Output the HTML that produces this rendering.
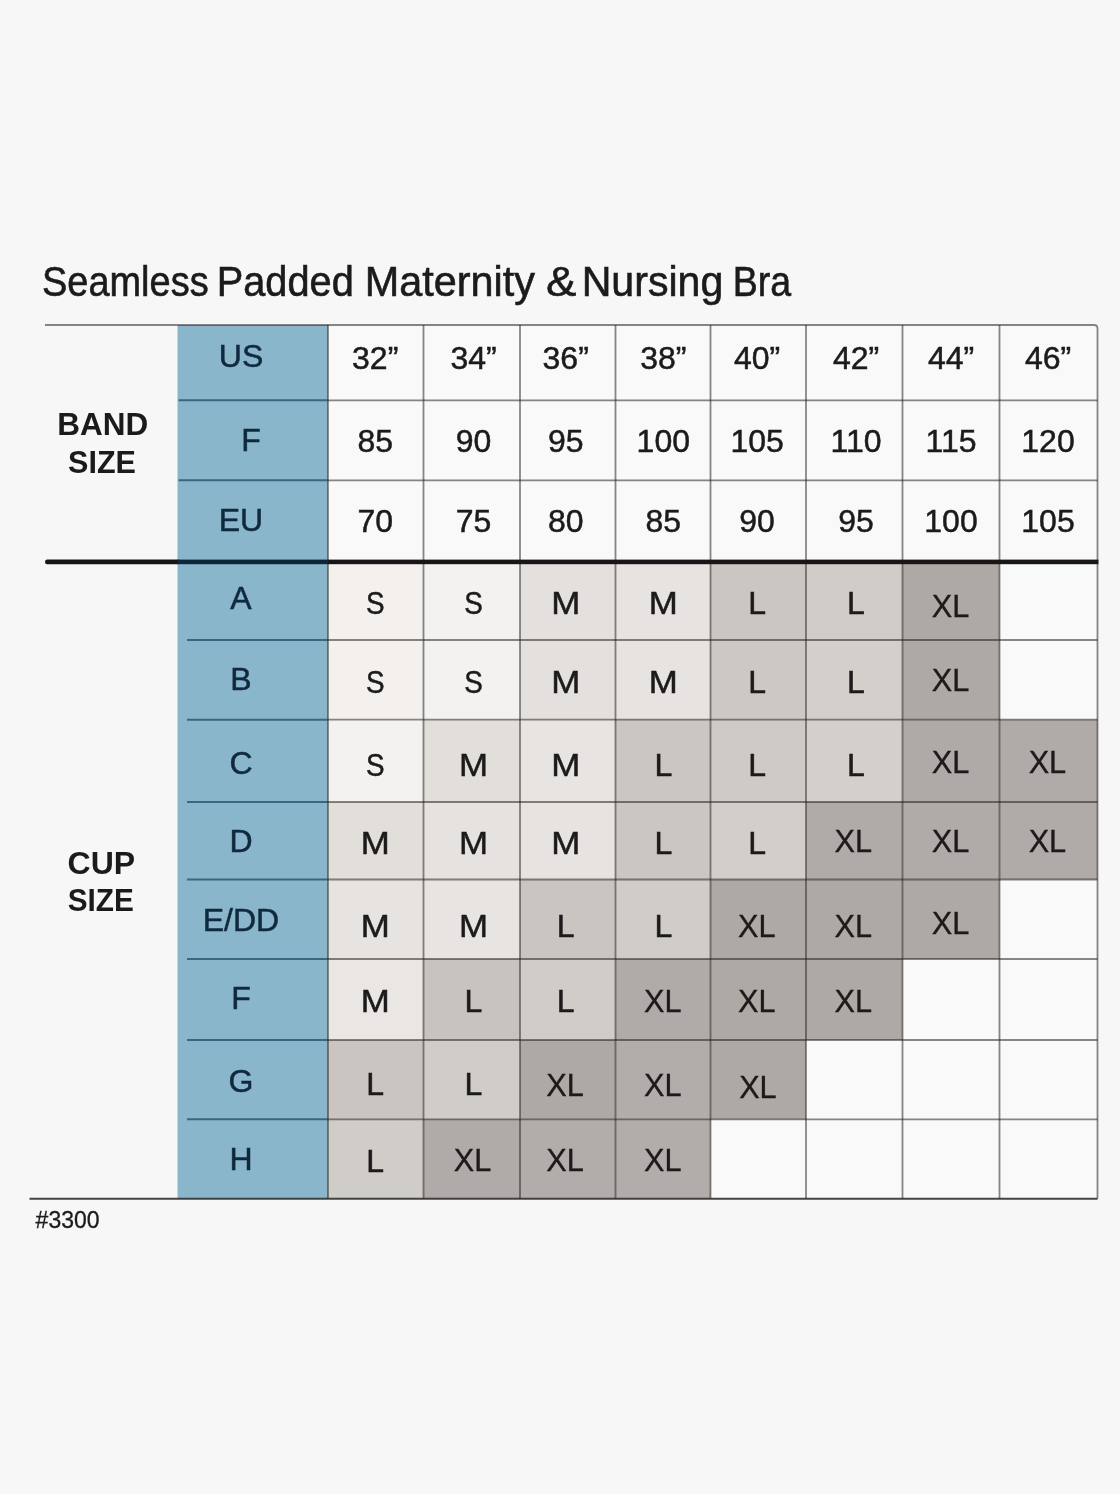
<!DOCTYPE html>
<html lang="en"><head><meta charset="utf-8"><title>Seamless Padded Maternity &amp; Nursing Bra – Size Chart</title>
<style>
html,body{margin:0;padding:0;background:#f7f7f7;}
body{width:1120px;height:1494px;overflow:hidden;}
svg{display:block;}
text{font-family:"Liberation Sans",sans-serif;}
.t{font-size:32px;fill:#1c1a1a;stroke:#1c1a1a;stroke-width:0.5;text-anchor:middle;}
.n{font-size:32px;fill:#10293d;stroke:#10293d;stroke-width:0.5;text-anchor:middle;}
.x{font-size:30.7px;stroke-width:0.35;}
.b{font-size:32px;font-weight:bold;fill:#1c1a1a;text-anchor:middle;}
.ln{stroke:rgba(34,28,24,0.53);stroke-width:1.8;fill:none;}
.soft{filter:blur(0.55px);}
</style></head><body>
<svg width="1120" height="1494" viewBox="0 0 1120 1494">
<rect x="0" y="0" width="1120" height="1494" fill="#f7f7f7"/>
<g class="soft">
<rect x="328" y="325" width="769.5" height="873.2" fill="#f9f9f9"/>
<rect x="177.5" y="325" width="150.5" height="873.2" fill="#89b6ca"/>
<rect x="328" y="562" width="95.5" height="78" fill="#f3f0ee"/>
<rect x="423.5" y="562" width="96.5" height="78" fill="#f4f2f0"/>
<rect x="520" y="562" width="95.5" height="78" fill="#e4e0dd"/>
<rect x="615.5" y="562" width="95" height="78" fill="#e7e3e0"/>
<rect x="710.5" y="562" width="95.5" height="78" fill="#cbc6c2"/>
<rect x="806" y="562" width="96.5" height="78" fill="#d1ccc8"/>
<rect x="902.5" y="562" width="97" height="78" fill="#afa9a6"/>
<rect x="328" y="640" width="95.5" height="79.7" fill="#f3f0ee"/>
<rect x="423.5" y="640" width="96.5" height="79.7" fill="#f4f2f0"/>
<rect x="520" y="640" width="95.5" height="79.7" fill="#e4e0dd"/>
<rect x="615.5" y="640" width="95" height="79.7" fill="#e7e3e0"/>
<rect x="710.5" y="640" width="95.5" height="79.7" fill="#cdc8c4"/>
<rect x="806" y="640" width="96.5" height="79.7" fill="#d4cfcb"/>
<rect x="902.5" y="640" width="97" height="79.7" fill="#afa9a6"/>
<rect x="328" y="719.7" width="95.5" height="82.3" fill="#f4f2f0"/>
<rect x="423.5" y="719.7" width="96.5" height="82.3" fill="#e2deda"/>
<rect x="520" y="719.7" width="95.5" height="82.3" fill="#e8e4e1"/>
<rect x="615.5" y="719.7" width="95" height="82.3" fill="#cbc6c2"/>
<rect x="710.5" y="719.7" width="95.5" height="82.3" fill="#cfcac6"/>
<rect x="806" y="719.7" width="96.5" height="82.3" fill="#d4cfcb"/>
<rect x="902.5" y="719.7" width="97" height="82.3" fill="#afaaa7"/>
<rect x="999.5" y="719.7" width="98" height="82.3" fill="#b0aba8"/>
<rect x="328" y="802" width="95.5" height="77.5" fill="#e2deda"/>
<rect x="423.5" y="802" width="96.5" height="77.5" fill="#e6e2df"/>
<rect x="520" y="802" width="95.5" height="77.5" fill="#e7e3e0"/>
<rect x="615.5" y="802" width="95" height="77.5" fill="#cbc6c2"/>
<rect x="710.5" y="802" width="95.5" height="77.5" fill="#d3cec9"/>
<rect x="806" y="802" width="96.5" height="77.5" fill="#b0aba8"/>
<rect x="902.5" y="802" width="97" height="77.5" fill="#b0aba8"/>
<rect x="999.5" y="802" width="98" height="77.5" fill="#b0aba8"/>
<rect x="328" y="879.5" width="95.5" height="79.5" fill="#e6e3e0"/>
<rect x="423.5" y="879.5" width="96.5" height="79.5" fill="#e7e4e1"/>
<rect x="520" y="879.5" width="95.5" height="79.5" fill="#cac5c1"/>
<rect x="615.5" y="879.5" width="95" height="79.5" fill="#d0ccc7"/>
<rect x="710.5" y="879.5" width="95.5" height="79.5" fill="#afa9a6"/>
<rect x="806" y="879.5" width="96.5" height="79.5" fill="#afa9a6"/>
<rect x="902.5" y="879.5" width="97" height="79.5" fill="#afa9a6"/>
<rect x="328" y="959" width="95.5" height="81" fill="#e9e6e3"/>
<rect x="423.5" y="959" width="96.5" height="81" fill="#c8c3bf"/>
<rect x="520" y="959" width="95.5" height="81" fill="#d0ccc7"/>
<rect x="615.5" y="959" width="95" height="81" fill="#b0aba8"/>
<rect x="710.5" y="959" width="95.5" height="81" fill="#afa9a6"/>
<rect x="806" y="959" width="96.5" height="81" fill="#afa9a6"/>
<rect x="328" y="1040" width="95.5" height="79.3" fill="#cac5c1"/>
<rect x="423.5" y="1040" width="96.5" height="79.3" fill="#d0ccc7"/>
<rect x="520" y="1040" width="95.5" height="79.3" fill="#afa9a6"/>
<rect x="615.5" y="1040" width="95" height="79.3" fill="#b2adaa"/>
<rect x="710.5" y="1040" width="95.5" height="79.3" fill="#afa9a6"/>
<rect x="328" y="1119.3" width="95.5" height="78.9" fill="#d0ccc7"/>
<rect x="423.5" y="1119.3" width="96.5" height="78.9" fill="#b0aba8"/>
<rect x="520" y="1119.3" width="95.5" height="78.9" fill="#b2adaa"/>
<rect x="615.5" y="1119.3" width="95" height="78.9" fill="#b2adaa"/>
<g class="ln">
<path d="M45 325 H1094 Q1097.5 325 1097.5 328.5 V1198.5"/>
<line x1="328" y1="400.3" x2="1097.5" y2="400.3"/>
<line x1="328" y1="480.3" x2="1097.5" y2="480.3"/>
<line x1="328" y1="640" x2="1097.5" y2="640"/>
<line x1="328" y1="719.7" x2="1097.5" y2="719.7"/>
<line x1="328" y1="802" x2="1097.5" y2="802"/>
<line x1="328" y1="879.5" x2="1097.5" y2="879.5"/>
<line x1="328" y1="959" x2="1097.5" y2="959"/>
<line x1="328" y1="1040" x2="1097.5" y2="1040"/>
<line x1="328" y1="1119.3" x2="1097.5" y2="1119.3"/>
<line x1="29.5" y1="1198.7" x2="1097.5" y2="1198.7" style="stroke-width:2;stroke:rgba(16,16,18,0.78)"/>
<line x1="328" y1="325" x2="328" y2="1198.2"/>
<line x1="423.5" y1="325" x2="423.5" y2="1198.2"/>
<line x1="520" y1="325" x2="520" y2="1198.2"/>
<line x1="615.5" y1="325" x2="615.5" y2="1198.2"/>
<line x1="710.5" y1="325" x2="710.5" y2="1198.2"/>
<line x1="806" y1="325" x2="806" y2="1198.2"/>
<line x1="902.5" y1="325" x2="902.5" y2="1198.2"/>
<line x1="999.5" y1="325" x2="999.5" y2="1198.2"/>
</g>
<g style="stroke:rgba(14,52,78,0.62);stroke-width:2;">
<line x1="178.5" y1="400.3" x2="328" y2="400.3"/>
<line x1="178.5" y1="480.3" x2="328" y2="480.3"/>
<line x1="187" y1="640" x2="328" y2="640"/>
<line x1="187" y1="719.7" x2="328" y2="719.7"/>
<line x1="187" y1="802" x2="328" y2="802"/>
<line x1="187" y1="879.5" x2="328" y2="879.5"/>
<line x1="187" y1="959" x2="328" y2="959"/>
<line x1="187" y1="1040" x2="328" y2="1040"/>
<line x1="187" y1="1119.3" x2="328" y2="1119.3"/>
</g>
<line x1="47.3" y1="561.9" x2="178" y2="561.9" stroke="#181516" stroke-width="4.6" stroke-linecap="round"/>
<rect x="177.5" y="559.6" width="150.5" height="4.6" fill="#0d2536"/>
<rect x="328" y="559.6" width="770.4" height="4.6" fill="#1a1617"/>
<text y="296" font-size="42" fill="#1c1a1a" stroke="#1c1a1a" stroke-width="0.6"><tspan x="42" textLength="166.6" lengthAdjust="spacingAndGlyphs">Seamless</tspan> <tspan x="216.7" textLength="137.1" lengthAdjust="spacingAndGlyphs">Padded</tspan> <tspan x="364.8" textLength="170.2" lengthAdjust="spacingAndGlyphs">Maternity</tspan> <tspan x="546" textLength="30.4" lengthAdjust="spacingAndGlyphs">&amp;</tspan> <tspan x="581.7" textLength="141.6" lengthAdjust="spacingAndGlyphs">Nursing</tspan> <tspan x="732.8" textLength="58.4" lengthAdjust="spacingAndGlyphs">Bra</tspan></text>
<text class="b" transform="translate(102.8,435) scale(0.985,1)">BAND</text>
<text class="b" transform="translate(102,473) scale(0.955,1)">SIZE</text>
<text class="b" x="101.3" y="874">CUP</text>
<text class="b" transform="translate(100.8,910.5) scale(0.93,1)">SIZE</text>
<text class="n" x="241" y="367.2">US</text>
<text class="n" x="251" y="450.8">F</text>
<text class="n" x="241" y="530.8">EU</text>
<text class="n" x="241" y="609">A</text>
<text class="n" x="241" y="690">B</text>
<text class="n" x="241" y="774">C</text>
<text class="n" x="241" y="852">D</text>
<text class="n" x="241" y="931">E/DD</text>
<text class="n" x="241" y="1009">F</text>
<text class="n" x="241" y="1092">G</text>
<text class="n" x="241" y="1170">H</text>
<text class="t" x="375.2" y="369">32”</text>
<text class="t" x="473.5" y="369">34”</text>
<text class="t" x="565.7" y="369">36”</text>
<text class="t" x="663.3" y="369">38”</text>
<text class="t" x="757.1" y="369">40”</text>
<text class="t" x="856" y="369">42”</text>
<text class="t" x="951" y="369">44”</text>
<text class="t" x="1048" y="369">46”</text>
<text class="t" x="375.2" y="452">85</text>
<text class="t" x="473.5" y="452">90</text>
<text class="t" x="565.7" y="452">95</text>
<text class="t" x="663.3" y="452">100</text>
<text class="t" x="757.1" y="452">105</text>
<text class="t" x="856" y="452">110</text>
<text class="t" x="951" y="452">115</text>
<text class="t" x="1048" y="452">120</text>
<text class="t" x="375.2" y="532.3">70</text>
<text class="t" x="473.5" y="532.3">75</text>
<text class="t" x="565.7" y="532.3">80</text>
<text class="t" x="663.3" y="532.3">85</text>
<text class="t" x="757.1" y="532.3">90</text>
<text class="t" x="856" y="532.3">95</text>
<text class="t" x="951" y="532.3">100</text>
<text class="t" x="1048" y="532.3">105</text>
<text class="t" transform="translate(375.2,613.5) scale(0.87,1)">S</text>
<text class="t" transform="translate(473.5,613.5) scale(0.87,1)">S</text>
<text class="t" transform="translate(565.7,613.5) scale(1.09,1)">M</text>
<text class="t" transform="translate(663.3,613.5) scale(1.09,1)">M</text>
<text class="t" x="757.1" y="613.5">L</text>
<text class="t" x="856" y="613.5">L</text>
<text class="t x" x="950.5" y="617">XL</text>
<text class="t" transform="translate(375.2,693) scale(0.87,1)">S</text>
<text class="t" transform="translate(473.5,693) scale(0.87,1)">S</text>
<text class="t" transform="translate(565.7,693) scale(1.09,1)">M</text>
<text class="t" transform="translate(663.3,693) scale(1.09,1)">M</text>
<text class="t" x="757.1" y="693">L</text>
<text class="t" x="856" y="693">L</text>
<text class="t x" x="950.5" y="690.7">XL</text>
<text class="t" transform="translate(375.2,775.5) scale(0.87,1)">S</text>
<text class="t" transform="translate(473.5,775.5) scale(1.09,1)">M</text>
<text class="t" transform="translate(565.7,775.5) scale(1.09,1)">M</text>
<text class="t" x="663.3" y="775.5">L</text>
<text class="t" x="757.1" y="775.5">L</text>
<text class="t" x="856" y="775.5">L</text>
<text class="t x" x="950.5" y="773.2">XL</text>
<text class="t x" x="1047.4" y="773.2">XL</text>
<text class="t" transform="translate(375.2,854) scale(1.09,1)">M</text>
<text class="t" transform="translate(473.5,854) scale(1.09,1)">M</text>
<text class="t" transform="translate(565.7,854) scale(1.09,1)">M</text>
<text class="t" x="663.3" y="854">L</text>
<text class="t" x="757.1" y="854">L</text>
<text class="t x" x="853.2" y="852.3">XL</text>
<text class="t x" x="950.5" y="852.3">XL</text>
<text class="t x" x="1047.4" y="852.3">XL</text>
<text class="t" transform="translate(375.2,937) scale(1.09,1)">M</text>
<text class="t" transform="translate(473.5,937) scale(1.09,1)">M</text>
<text class="t" x="565.7" y="937">L</text>
<text class="t" x="663.3" y="937">L</text>
<text class="t x" x="756.8" y="937">XL</text>
<text class="t x" x="853.2" y="936.5">XL</text>
<text class="t x" x="950.5" y="934">XL</text>
<text class="t" transform="translate(375.2,1012) scale(1.09,1)">M</text>
<text class="t" x="473.5" y="1012">L</text>
<text class="t" x="565.7" y="1012">L</text>
<text class="t x" x="662.8" y="1012">XL</text>
<text class="t x" x="756.8" y="1012">XL</text>
<text class="t x" x="853.2" y="1012">XL</text>
<text class="t" x="375.2" y="1095">L</text>
<text class="t" x="473.5" y="1095">L</text>
<text class="t x" x="565" y="1095.5">XL</text>
<text class="t x" x="662.8" y="1095.5">XL</text>
<text class="t x" x="757.9" y="1098">XL</text>
<text class="t" x="375.2" y="1172">L</text>
<text class="t x" x="472.5" y="1171.2">XL</text>
<text class="t x" x="565" y="1171.2">XL</text>
<text class="t x" x="662.8" y="1171.2">XL</text>
<text x="35.6" y="1228.3" font-size="23.2" fill="#1c1a1a" stroke="#1c1a1a" stroke-width="0.3" textLength="64" lengthAdjust="spacingAndGlyphs">#3300</text>
</g>
</svg>
</body></html>
